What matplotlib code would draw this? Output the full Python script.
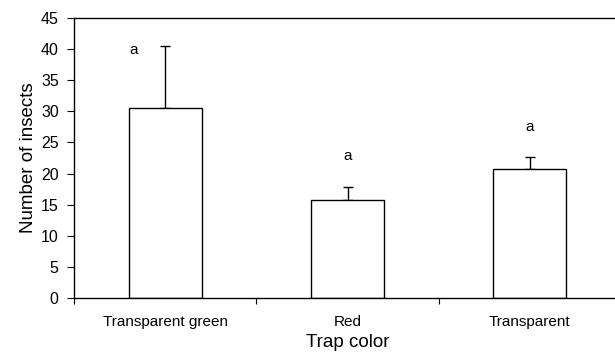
import matplotlib
matplotlib.use("Agg")
import matplotlib.pyplot as plt
import numpy as np

plt.rcParams['font.family'] = ['Liberation Sans', 'DejaVu Sans']

categories = ["Transparent green", "Red", "Transparent"]
means = [30.5, 15.8, 20.7]
errors = [10.0, 2.0, 2.0]
letters = ["a", "a", "a"]
letter_y = [39.9, 22.8, 27.5]
letter_dx = [-0.175, 0.0, 0.0]

fig = plt.figure(figsize=(6.15, 3.58), dpi=100)
ax = fig.add_axes([74/615, 60/358, 547/615, 280/358])

x = np.arange(len(categories)) + 0.5
ax.bar(x, means, width=0.4, color='white', edgecolor='black', linewidth=1.0, zorder=2)
ax.errorbar(x, means, yerr=[np.zeros(len(errors)), errors], fmt='none',
            ecolor='black', elinewidth=1.0, capsize=3.5, capthick=1.0, zorder=1)
for xi, dx, ly, t in zip(x, letter_dx, letter_y, letters):
    ax.text(xi + dx, ly, t, ha='center', va='center', fontsize=11)

ax.set_xlim(0, 3)
ax.set_ylim(0, 45)
ax.set_yticks(np.arange(0, 46, 5))
ax.set_xticks([0, 1, 2, 3])
ax.set_xticklabels([])
ax.set_xticks(x, minor=True)
ax.set_xticklabels(categories, minor=True, fontsize=11)
ax.tick_params(axis='x', which='minor', length=0, pad=12)
ax.tick_params(axis='x', which='major', length=4, direction='out')
ax.tick_params(axis='y', length=5, direction='out', labelsize=11.5, pad=6)
for s in ax.spines.values():
    s.set_linewidth(1.0)
ax.set_xlabel("Trap color", fontsize=13.5, labelpad=4)
ax.set_ylabel("Number of insects", fontsize=13.5, labelpad=3)

fig.savefig("out.png", dpi=100)
